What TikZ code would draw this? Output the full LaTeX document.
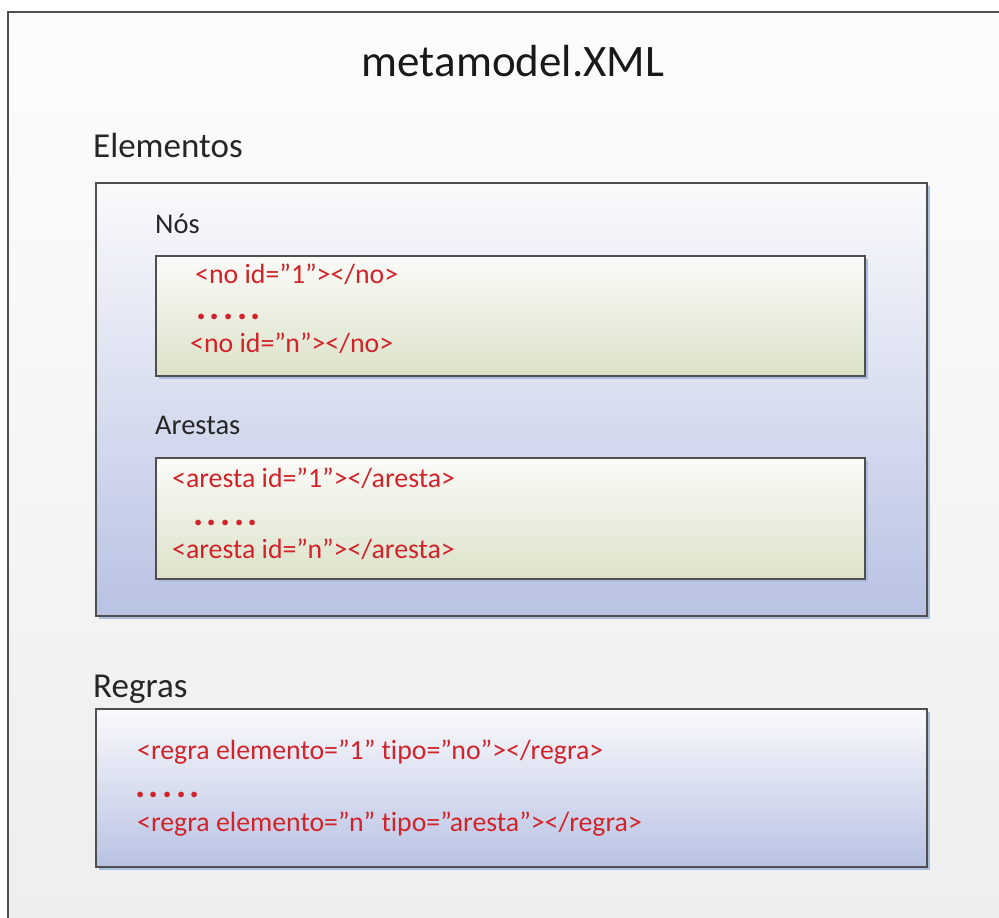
\documentclass[tikz,border=0pt]{standalone}
\usepackage{fontspec}
\setmainfont{Carlito}[Ligatures=NoCommon]
\usetikzlibrary{shadows}
\definecolor{framegray}{HTML}{4F4F4F}
\definecolor{pagetop}{HTML}{FCFCFC}
\definecolor{pagebot}{HTML}{EEEEEE}
\definecolor{bluetop}{HTML}{FAFAFC}
\definecolor{bluebot}{HTML}{B8C2E3}
\definecolor{greentop}{HTML}{FBFBF8}
\definecolor{greenbot}{HTML}{DCE2C9}
\definecolor{shadeblue}{HTML}{A9BEDF}
\definecolor{codered}{HTML}{D2232A}
\definecolor{labelgray}{HTML}{262626}
% five heavy dots standing for the omitted entries
\newcommand{\fivedots}{.\kern3.5pt.\kern3.5pt.\kern3.5pt.\kern3.5pt.}
\tikzset{
  panel/.style={draw=framegray, line width=1.6pt, anchor=north west, inner sep=0pt,
    general shadow={fill=shadeblue, shadow xshift=3pt, shadow yshift=-3pt}},
  bluepanel/.style={panel, top color=bluetop, bottom color=bluebot},
  greenpanel/.style={panel, top color=greentop, bottom color=greenbot},
  heading/.style={anchor=base west, inner sep=0pt, text=labelgray, font=\fontsize{35}{42}\selectfont},
  subheading/.style={anchor=base west, inner sep=0pt, text=labelgray, font=\fontsize{28.5}{34}\selectfont},
  code/.style={anchor=base west, inner sep=0pt, text=codered, font=\fontsize{27.8}{33}\selectfont},
  ellip/.style={anchor=base west, inner sep=0pt, text=codered, font=\fontsize{38}{44}\selectfont\bfseries}
}
\begin{document}
\begin{tikzpicture}[x=1pt, y=-1pt]
\useasboundingbox (0,0) rectangle (999,918);
% page background and open frame
\fill[white] (0,0) rectangle (999,918);
\shade[top color=pagetop, bottom color=pagebot] (8,12) rectangle (1005,925);
\draw[framegray, line width=1.6pt] (8,925) -- (8,12) -- (1005,12);

\node[anchor=base, inner sep=0pt, text=black!90, font=\fontsize{45}{54}\selectfont] (title) at (513,76) {metamodel.XML};

% element group
\node[heading] (elemlabel) at (93,157) {Elementos};
\node[bluepanel, minimum width=831pt, minimum height=433pt] (elem) at (95,182) {};

\node[subheading] (noslabel) at (155,233) {Nós};
\node[greenpanel, minimum width=709pt, minimum height=120pt] (nos) at (155,255) {};
\node[code] (no1) at (195,283) {<no id=”1”></no>};
\node[ellip] (nodots) at (196,319) {\fivedots};
\node[code] (non) at (190,352) {<no id=”n”></no>};

\node[subheading] (arlabel) at (155,434) {Arestas};
\node[greenpanel, minimum width=709pt, minimum height=121pt] (ar) at (155,457) {};
\node[code] (ar1) at (172,487) {<aresta id=”1”></aresta>};
\node[ellip] (ardots) at (193,525) {\fivedots};
\node[code] (arn) at (172,558) {<aresta id=”n”></aresta>};

% rule group
\node[heading] (reglabel) at (93,697) {Regras};
\node[bluepanel, minimum width=831pt, minimum height=158pt] (reg) at (95,708) {};
\node[code] (reg1) at (137,759) {<regra elemento=”1” tipo=”no”></regra>};
\node[ellip] (regdots) at (135,797) {\fivedots};
\node[code] (regn) at (137,831) {<regra elemento=”n” tipo=”aresta”></regra>};
\end{tikzpicture}
\end{document}
